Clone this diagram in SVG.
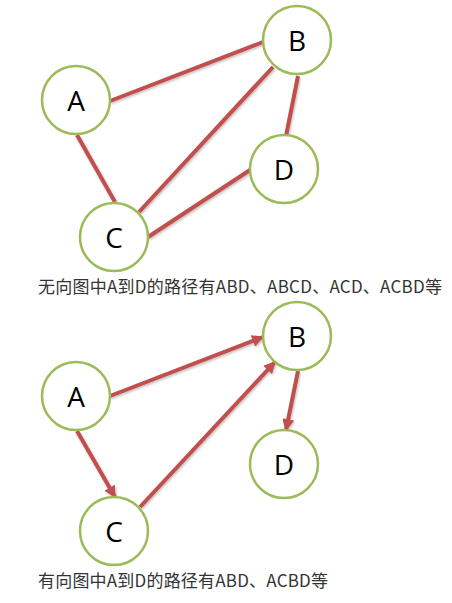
<svg xmlns="http://www.w3.org/2000/svg" width="452" height="603" viewBox="0 0 452 603">
<style>
.node circle{fill:#fff;stroke:#9bbb59;stroke-width:2.5}
.node text{font-family:"Open Sans","Noto Sans",sans-serif;font-size:28px;fill:#000;text-anchor:middle;dominant-baseline:central}
.edge{stroke:#c0504d;stroke-width:4;fill:none;filter:url(#sh)}
.cap{font-family:"Noto Sans CJK SC","Noto Sans",sans-serif;font-size:17px;fill:#333}
</style>
<defs>
<filter id="sh" x="-20%" y="-20%" width="140%" height="140%">
<feDropShadow dx="1" dy="1.5" stdDeviation="1.2" flood-color="#000" flood-opacity="0.25"/>
</filter>
<marker id="arr" viewBox="0 0 10 10" refX="9" refY="5" markerWidth="3.2" markerHeight="3" orient="auto" markerUnits="strokeWidth">
<path d="M0,0 L10,5 L0,10 z" fill="#c0504d"/>
</marker>
</defs>
<g id="connectors">
<line class="edge" x1="110" y1="101" x2="263" y2="42"/>
<line class="edge" x1="77" y1="135" x2="115" y2="202"/>
<line class="edge" x1="139" y1="212" x2="273" y2="67"/>
<line class="edge" x1="298" y1="76" x2="286" y2="136"/>
<line class="edge" x1="148" y1="237" x2="250" y2="170"/>
<line class="edge" x1="110" y1="396" x2="263" y2="337" marker-end="url(#arr)"/>
<line class="edge" x1="77" y1="431" x2="115" y2="497" marker-end="url(#arr)"/>
<line class="edge" x1="140" y1="507" x2="275" y2="362" marker-end="url(#arr)"/>
<line class="edge" x1="298" y1="371" x2="286" y2="430" marker-end="url(#arr)"/>
</g>
<g id="A1" class="node"><circle cx="76" cy="100" r="34"/><text x="76" y="100">A</text></g>
<g id="B1" class="node"><circle cx="297" cy="40" r="34"/><text x="297" y="40">B</text></g>
<g id="C1" class="node"><circle cx="114" cy="237" r="34"/><text x="114" y="237">C</text></g>
<g id="D1" class="node"><circle cx="284" cy="169" r="34"/><text x="284" y="169">D</text></g>
<g id="caption1"><text class="cap" x="38" y="293" textLength="404" lengthAdjust="spacing">无向图中A到D的路径有ABD、ABCD、ACD、ACBD等</text></g>
<g id="A2" class="node"><circle cx="76" cy="396" r="34"/><text x="76" y="396">A</text></g>
<g id="B2" class="node"><circle cx="297" cy="336" r="34"/><text x="297" y="336">B</text></g>
<g id="C2" class="node"><circle cx="114" cy="531" r="34"/><text x="114" y="531">C</text></g>
<g id="D2" class="node"><circle cx="284" cy="464" r="34"/><text x="284" y="464">D</text></g>
<g id="caption2"><text class="cap" x="38" y="587" textLength="290" lengthAdjust="spacing">有向图中A到D的路径有ABD、ACBD等</text></g>
</svg>
